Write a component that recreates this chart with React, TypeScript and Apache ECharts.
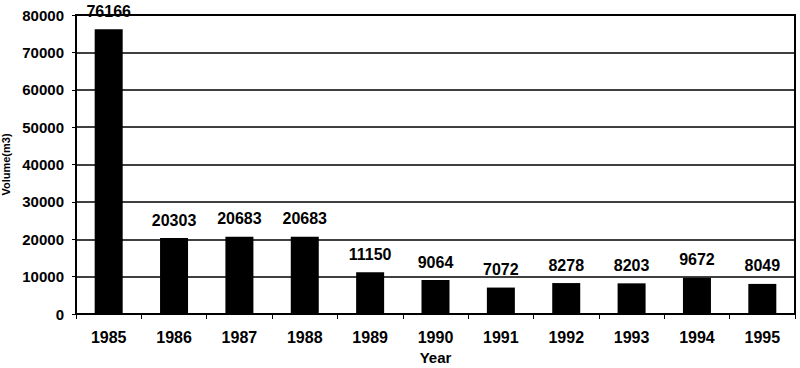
import React, { useEffect, useRef } from "react";
import * as echarts from "echarts";

const years = ["1985", "1986", "1987", "1988", "1989", "1990", "1991", "1992", "1993", "1994", "1995"];
const volumes = [76166, 20303, 20683, 20683, 11150, 9064, 7072, 8278, 8203, 9672, 8049];

export default function App() {
  const ref = useRef<HTMLDivElement>(null);
  useEffect(() => {
    const chart = echarts.init(ref.current!, undefined, { renderer: "svg" });
    const font = "'Liberation Sans', Arial, sans-serif";
    chart.setOption({
      animation: false,
      backgroundColor: "#ffffff",
      grid: {
        left: 76,
        right: 5,
        top: 15,
        bottom: 54,
        containLabel: false,
        outerBoundsMode: "none",
        show: true,
        borderColor: "#000",
        borderWidth: 2,
        backgroundColor: "transparent",
      },
      xAxis: {
        type: "category",
        data: years,
        name: "Year",
        nameLocation: "middle",
        nameGap: 33,
        nameTextStyle: { fontFamily: font, fontWeight: "bold", fontSize: 15, color: "#000" },
        axisLine: { lineStyle: { color: "#000", width: 2 } },
        axisTick: { show: true, alignWithLabel: false, length: 5, lineStyle: { color: "#000", width: 1 } },
        axisLabel: { fontFamily: font, fontWeight: "bold", fontSize: 16, color: "#000", margin: 15 },
      },
      yAxis: {
        type: "value",
        min: 0,
        max: 80000,
        interval: 10000,
        name: "Volume(m3)",
        nameLocation: "middle",
        nameGap: 64,
        nameTextStyle: { fontFamily: font, fontWeight: "bold", fontSize: 11, color: "#000" },
        axisLine: { show: true, lineStyle: { color: "#000", width: 2 } },
        axisTick: { show: true, length: 4, lineStyle: { color: "#000" } },
        axisLabel: {
          fontFamily: font,
          fontWeight: "bold",
          fontSize: 15,
          color: "#000",
          margin: 12,
          formatter: (v: number) => String(v),
        },
        splitLine: { show: true, lineStyle: { color: "#000", width: 1.5 } },
      },
      series: [
        {
          type: "bar",
          data: volumes,
          barWidth: 28,
          itemStyle: { color: "#000" },
          label: {
            show: true,
            position: "top",
            distance: 10,
            fontFamily: font,
            fontWeight: "bold",
            fontSize: 16,
            color: "#000",
          },
        },
      ],
    });
    return () => chart.dispose();
  }, []);
  return <div ref={ref} style={{ width: 800, height: 368, position: "absolute", left: 0, top: 0 }} />;
}
